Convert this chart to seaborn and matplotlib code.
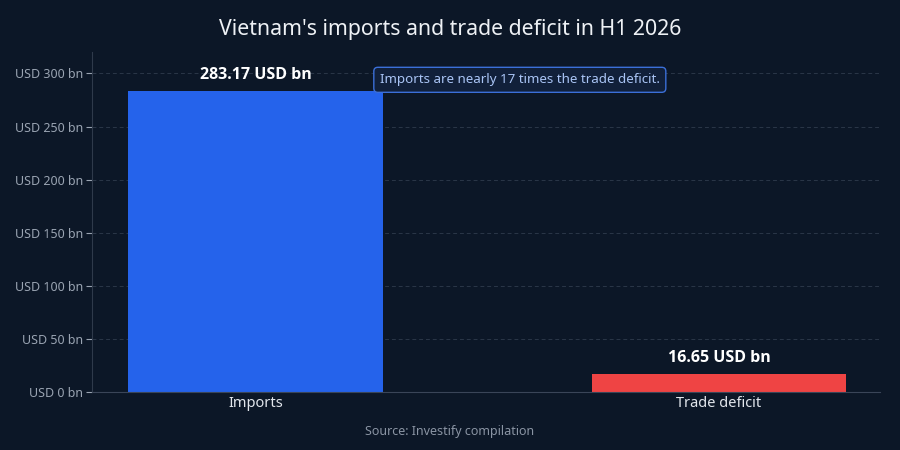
import matplotlib
matplotlib.use("Agg")
import matplotlib.pyplot as plt
import seaborn as sns
import pandas as pd

categories = ["Imports", "Trade deficit"]
values = [283.17, 16.65]
bar_colors = ["#2563eb", "#ef4444"]
yticks = [0, 50, 100, 150, 200, 250, 300]
ytick_labels = [f"USD {v} bn" for v in yticks]
title = "Vietnam's imports and trade deficit in H1 2026"
note = "Imports are nearly 17 times the trade deficit."
source = "Source: Investify compilation"

bg = "#0c1727"
sns.set_theme(style="dark")
plt.rcParams['font.family'] = ['Noto Sans', 'DejaVu Sans']

df = pd.DataFrame({"category": categories, "value": values})

fig = plt.figure(figsize=(9, 4.5), dpi=100, facecolor=bg)
ax = fig.add_axes([0.102, 0.129, 0.876, 0.755])
ax.set_facecolor(bg)

sns.barplot(data=df, x="category", y="value", hue="category", palette=bar_colors,
            width=0.55, legend=False, ax=ax, saturation=1, linewidth=0, edgecolor="none")

ax.set_xlim(-0.354, 1.348)
ax.set_ylim(0, 320)
ax.set_yticks(yticks)
ax.set_yticklabels(ytick_labels)
ax.set_xlabel("")
ax.set_ylabel("")
ax.tick_params(axis="y", colors="#9aa4b2", labelsize=9.0, length=4, width=0.8, direction="out", left=True, pad=2.5)
ax.tick_params(axis="x", colors="#d8dde5", labelsize=10.5, length=0, pad=3)
for lbl in ax.get_yticklabels():
    lbl.set_color("#9aa4b2")
for lbl in ax.get_xticklabels():
    lbl.set_color("#e2e6ec")

ax.grid(axis="y", color="#2a3648", linestyle=(0, (4, 3)), linewidth=0.7)
ax.grid(axis="x", visible=False)
ax.set_axisbelow(True)
for s in ["top", "right"]:
    ax.spines[s].set_visible(False)
ax.spines["left"].set_color("#2f3a4b")
ax.spines["bottom"].set_color("#3a4558")
ax.spines["left"].set_linewidth(0.8)
ax.spines["bottom"].set_linewidth(0.8)

for i, v in enumerate(values):
    ax.annotate(f"{v:.2f} USD bn", xy=(i, v), xytext=(0, 12), textcoords="offset points",
                ha="center", va="center", color="white", fontsize=11.5, fontweight="bold",
                family=['Open Sans', 'DejaVu Sans'])

ax.text(0.57, 294, note, ha="center", va="center", color="#a9c4f5", fontsize=9.6,
        bbox=dict(boxstyle="round,pad=0.45,rounding_size=0.3", facecolor="#11203a",
                  edgecolor="#3b6fd8", linewidth=1))

fig.text(0.5, 0.935, title, ha="center", va="center", color="#eef1f5", fontsize=15.3)
fig.text(0.5, 0.04, source, ha="center", va="center", color="#8a94a3", fontsize=9)

fig.savefig("out.png", dpi=100, facecolor=bg)
